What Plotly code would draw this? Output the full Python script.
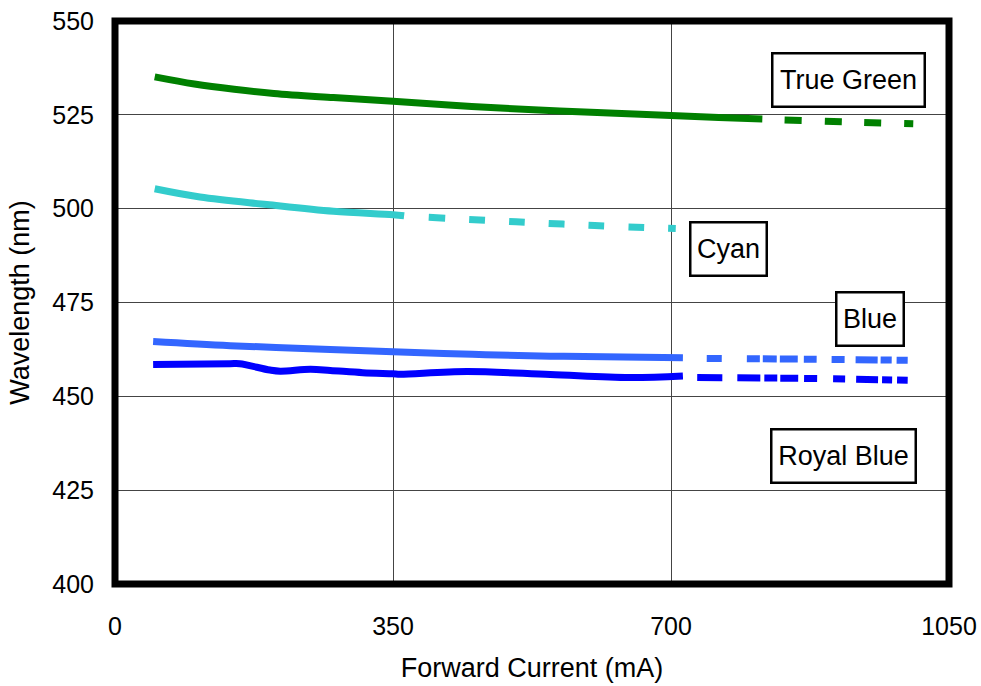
import plotly.graph_objects as go

# ---- data ----
green_x = [50, 100, 150, 200, 275, 350, 420, 485, 560, 630, 700, 760, 815]
green_y = [535.1, 533.2, 531.8, 530.7, 529.6, 528.6, 527.6, 526.8, 526.0, 525.4, 524.8, 524.3, 523.9]
green_dx = [843, 920, 1005]
green_dy = [523.6, 523.1, 522.6]

cyan_x = [50, 107, 191, 275, 350, 364]
cyan_y = [505.3, 503.1, 501.1, 499.3, 498.4, 498.1]
cyan_dx = [395, 505, 604, 706]
cyan_dy = [497.7, 496.5, 495.5, 494.7]

blue_x = [48, 145, 271, 350, 450, 548, 640, 715]
blue_y = [464.6, 463.5, 462.5, 461.9, 461.2, 460.7, 460.5, 460.3]
blue_dx = [745, 870, 998]
blue_dy = [460.1, 459.9, 459.6]

royal_x = [48, 145, 157, 195, 208, 246, 271, 312, 350, 359, 443, 548, 648, 715]
royal_y = [458.5, 458.7, 458.7, 457.0, 456.7, 457.2, 456.9, 456.3, 456.0, 455.9, 456.6, 455.8, 455.0, 455.4]
royal_dx = [733, 860, 998]
royal_dy = [455.0, 454.8, 454.3]

labels = ["True Green", "Cyan", "Blue", "Royal Blue"]
label_x = [923, 772, 951, 917]
label_y = [534.2, 489.2, 470.5, 434.2]
label_w = [142, 66, 57, 134]

x_ticks = [0, 350, 700, 1050]
y_ticks = [400, 425, 450, 475, 500, 525, 550]

FONT = "Liberation Sans, Arial, sans-serif"

fig = go.Figure()

def add(x, y, color, dash="solid", width=7):
    fig.add_trace(go.Scatter(x=x, y=y, mode="lines", line=dict(color=color, width=width, dash=dash, shape="spline"),
                             showlegend=False, hoverinfo="skip"))

add(green_x, green_y, "#008000")
add(green_dx, green_dy, "#008000", "17px,23px")
add(cyan_x, cyan_y, "#33CCCC")
add(cyan_dx, cyan_dy, "#33CCCC", "16px,24px")
add(blue_x, blue_y, "#3366FF")
add(blue_dx, blue_dy, "#3366FF", "15px,25px,13px,3px,14px,3px,18px,6px,13px,15px,13px,11px,22px,3px,11px,5px,12px,20px")
add(royal_x, royal_y, "#0000FF")
add(royal_dx, royal_dy, "#0000FF", "25px,15px,23px,4px,13px,3px,18px,6px,13px,16px,12px,11px,22px,4px,10px,5px,11px,20px")

for t, x, y, w in zip(labels, label_x, label_y, label_w):
    fig.add_annotation(x=x, y=y, text=t, showarrow=False, font=dict(family=FONT, size=27, color="black"),
                       bgcolor="white", bordercolor="black", borderwidth=2.5, borderpad=4,
                       width=w, height=43)

fig.add_shape(type="rect", xref="paper", yref="paper", x0=0, y0=0, x1=1, y1=1,
              line=dict(color="black", width=7), layer="above")

fig.update_xaxes(range=[0, 1050], tickvals=x_ticks, showgrid=True, gridcolor="#444444", gridwidth=1,
                 zeroline=False, showline=False, ticks="", ticklabelstandoff=25, automargin=False,
                 ticklabeloverflow="allow",
                 tickfont=dict(family=FONT, size=25, color="black"),
                 title=dict(text="Forward Current (mA)", font=dict(family=FONT, size=27, color="black"), standoff=19))
fig.update_yaxes(range=[400, 550], tickvals=y_ticks, showgrid=True, gridcolor="#444444", gridwidth=1,
                 zeroline=False, showline=False, ticks="", ticklabelstandoff=20, automargin=False,
                 ticklabeloverflow="allow",
                 tickfont=dict(family=FONT, size=25, color="black"),
                 title=dict(text="Wavelength (nm)", font=dict(family=FONT, size=27, color="black"), standoff=14))

fig.update_layout(width=981, height=686, margin=dict(l=115, r=32, t=21, b=102),
                  plot_bgcolor="white", paper_bgcolor="white")

fig.write_html("out.html", config={"displayModeBar": False},
               post_script="document.body.style.margin='0';")
